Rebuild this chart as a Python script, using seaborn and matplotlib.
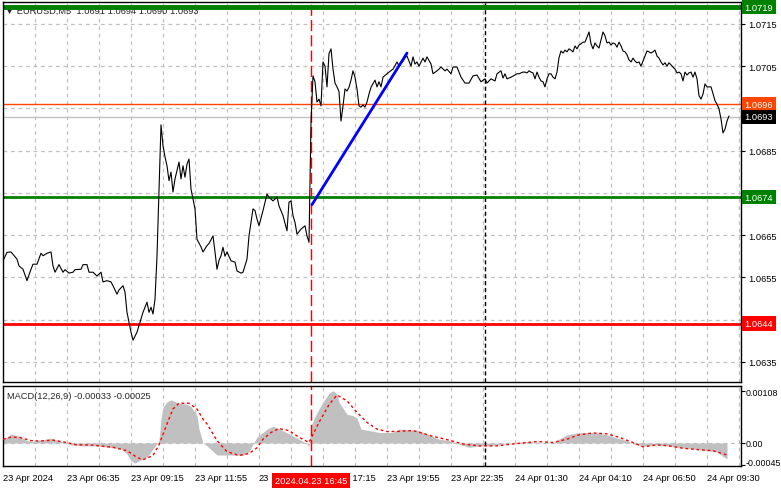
import matplotlib.pyplot as plt
import matplotlib.transforms as mtransforms
import seaborn as sns

# EURUSD M5, one x unit = one 5-minute bar
bars = [0, 2, 4, 7, 8, 10, 12, 14, 15, 17, 19, 20, 22, 24, 25, 26, 28, 30, 31, 33,
        35, 36, 39, 40, 42, 43, 45, 47, 49, 50, 52, 54, 55, 57, 58, 60, 61, 62, 63, 64,
        65, 67, 69, 70, 72, 73, 74, 75, 76, 77, 78, 79, 80, 81, 82, 83, 84, 85, 86, 88,
        89, 90, 91, 92, 93, 94, 95, 96, 97, 99, 100, 102, 103, 105, 106, 107, 108, 109, 110, 111,
        112, 114, 116, 117, 119, 120, 122, 123, 125, 126, 127, 128, 130, 132, 133, 135, 137, 138, 140, 142,
        143, 144, 145, 146, 147, 149, 151, 152, 153, 154, 155, 156, 157, 158, 159, 160, 161, 162, 163, 164,
        165, 166, 167, 168, 169, 170, 171, 172, 173, 174, 175, 176, 177, 178, 179, 180, 181, 182, 183, 184,
        186, 187, 188, 189, 190, 192, 193, 195, 197, 198, 200, 201, 202, 203, 204, 205, 206, 207, 208, 210,
        211, 212, 214, 215, 217, 218, 219, 221, 222, 224, 225, 227, 229, 231, 233, 235, 237, 239, 241, 242,
        244, 246, 247, 249, 250, 251, 252, 254, 256, 257, 258, 260, 261, 262, 263, 264, 265, 266, 267, 268,
        269, 270, 271, 272, 273, 274, 275, 276, 277, 278, 279, 280, 281, 282, 283, 284, 285, 286, 287, 288,
        289, 290, 291, 292, 293, 294, 295, 296, 297, 298, 299, 300, 301, 302, 303, 304, 305, 306, 307, 308,
        309, 310, 311, 312, 313, 314, 315, 316, 317, 318, 319, 320, 321, 322, 323, 324, 325, 326, 327, 328,
        329, 330, 331, 332, 333, 334, 335, 336, 337, 338, 339, 340, 341, 342, 343, 344, 345, 346, 347, 348,
        349, 350, 351, 352, 353, 354, 355, 356, 357, 358, 359, 360, 361, 362, 363]
close = [1.06589, 1.06609, 1.06610, 1.06593, 1.06577, 1.06569, 1.06542, 1.06569, 1.06581, 1.06581,
         1.06607, 1.06601, 1.06607, 1.06610, 1.06577, 1.06562, 1.06580, 1.06562, 1.06568, 1.06560,
         1.06562, 1.06568, 1.06569, 1.06580, 1.06580, 1.06562, 1.06562, 1.06553, 1.06562, 1.06539,
         1.06542, 1.06539, 1.06530, 1.06510, 1.06520, 1.06530, 1.06515, 1.06467, 1.06444, 1.06420,
         1.06401, 1.06420, 1.06451, 1.06467, 1.06491, 1.06467, 1.06479, 1.06463, 1.06498, 1.06600,
         1.06752, 1.06911, 1.06862, 1.06835, 1.06814, 1.06779, 1.06799, 1.06752, 1.06783, 1.06823,
         1.06783, 1.06814, 1.06787, 1.06818, 1.06830, 1.06759, 1.06735, 1.06712, 1.06640, 1.06622,
         1.06610, 1.06625, 1.06630, 1.06648, 1.06610, 1.06569, 1.06590, 1.06601, 1.06621, 1.06600,
         1.06610, 1.06589, 1.06586, 1.06565, 1.06560, 1.06562, 1.06593, 1.06648, 1.06712, 1.06708,
         1.06688, 1.06672, 1.06708, 1.06747, 1.06740, 1.06731, 1.06740, 1.06719, 1.06696, 1.06660,
         1.06728, 1.06731, 1.06696, 1.06680, 1.06652, 1.06664, 1.06672, 1.06648, 1.06633, 1.06918,
         1.07027, 1.07013, 1.06965, 1.06972, 1.06956, 1.07060, 1.07050, 1.07001, 1.07080, 1.07091,
         1.07043, 1.07010, 1.07001, 1.06990, 1.06920, 1.06956, 1.06996, 1.06991, 1.07000, 1.07017,
         1.07039, 1.07024, 1.06996, 1.06956, 1.06953, 1.06958, 1.06953, 1.06965, 1.06984, 1.07000,
         1.07017, 1.07001, 1.07013, 1.07001, 1.07024, 1.07032, 1.07036, 1.07043, 1.07060, 1.07050,
         1.07062, 1.07070, 1.07074, 1.07062, 1.07050, 1.07072, 1.07055, 1.07060, 1.07050, 1.07069,
         1.07060, 1.07072, 1.07055, 1.07032, 1.07039, 1.07043, 1.07048, 1.07039, 1.07043, 1.07032,
         1.07048, 1.07048, 1.07024, 1.07010, 1.07010, 1.07027, 1.07029, 1.07013, 1.07020, 1.07010,
         1.07020, 1.07015, 1.07032, 1.07039, 1.07022, 1.07032, 1.07020, 1.07024, 1.07029, 1.07032,
         1.07032, 1.07036, 1.07036, 1.07034, 1.07039, 1.07036, 1.07034, 1.07020, 1.07036, 1.07024,
         1.07015, 1.07013, 1.07001, 1.07020, 1.07032, 1.07032, 1.07024, 1.07020, 1.07036, 1.07070,
         1.07086, 1.07081, 1.07088, 1.07084, 1.07091, 1.07088, 1.07084, 1.07098, 1.07091, 1.07100,
         1.07103, 1.07107, 1.07107, 1.07119, 1.07131, 1.07103, 1.07091, 1.07105, 1.07098, 1.07093,
         1.07112, 1.07131, 1.07122, 1.07105, 1.07107, 1.07100, 1.07105, 1.07103, 1.07095, 1.07107,
         1.07098, 1.07086, 1.07084, 1.07077, 1.07065, 1.07060, 1.07069, 1.07062, 1.07058, 1.07060,
         1.07050, 1.07062, 1.07074, 1.07086, 1.07084, 1.07081, 1.07084, 1.07088, 1.07074, 1.07069,
         1.07060, 1.07053, 1.07058, 1.07050, 1.07058, 1.07053, 1.07048, 1.07043, 1.07034, 1.07036,
         1.07032, 1.07015, 1.07036, 1.07029, 1.07034, 1.07036, 1.07024, 1.07036, 1.07020, 1.06980,
         1.06972, 1.06984, 1.07008, 1.07001, 1.07001, 1.07001, 1.06985, 1.06968, 1.06960, 1.06949,
         1.06925, 1.06892, 1.06901, 1.06920, 1.06932]

# MACD(12,26,9): histogram and signal
hist_bars = [0, 2, 4, 8, 12, 15, 20, 24, 28, 31, 34, 40, 47, 53, 59, 62, 64, 66, 68, 72,
             75, 77, 78, 79, 80, 82, 84, 86, 88, 92, 94, 97, 98, 100, 102, 107, 113, 120, 123, 125,
             127, 132, 135, 138, 143, 148, 152, 153, 154, 157, 160, 163, 165, 167, 168, 172, 175, 177, 179, 183,
             188, 195, 198, 203, 208, 213, 218, 223, 228, 233, 238, 243, 248, 255, 262, 268, 275, 278, 282, 287,
             292, 297, 302, 307, 312, 315, 320, 327, 333, 338, 345, 352, 357, 360, 362]
hist_vals = [0.00010, 0.00012, 0.00019, 0.00014, 0.00005, 0.00003, 0.00007, 0.00010, 0.00005, 0.0,
             -0.00004, -0.00006, -0.00006, -0.00009, -0.00012, -0.00023, -0.00037, -0.00042, -0.00037, -0.00030,
             -0.00012, -0.00002, 0.00005, 0.00050, 0.00074, 0.00086, 0.00090, 0.00086, 0.00083, 0.00081,
             0.00076, 0.00057, 0.00029, 0.0, -0.00006, -0.00025, -0.00025, -0.00026, -0.00018, -0.00002,
             0.00012, 0.00029, 0.00035, 0.00030, 0.00019, 0.00008, -0.00002, -0.00008, 0.00036, 0.00064,
             0.00085, 0.00104, 0.00109, 0.00102, 0.00085, 0.00060, 0.00057, 0.00052, 0.00029, 0.00026,
             0.00022, 0.00022, 0.00029, 0.00028, 0.00026, 0.00017, 0.00008, 0.00005, -0.00002, -0.00009,
             -0.00006, -0.00006, -0.00003, 0.0, 0.00003, 0.00001, 0.0, 0.00008, 0.00017, 0.00021,
             0.00022, 0.00021, 0.00017, 0.00010, 0.00005, -0.00002, -0.00006, -0.00004, -0.00006, -0.00009,
             -0.00012, -0.00016, -0.00019, -0.00028, -0.00033]
sig_bars = [0, 4, 8, 14, 18, 25, 32, 37, 44, 48, 55, 62, 67, 70, 75, 78, 82, 85, 88, 93,
            97, 100, 102, 107, 112, 118, 123, 127, 130, 134, 138, 143, 148, 153, 158, 163, 167, 172, 177, 182,
            187, 192, 197, 205, 215, 222, 230, 238, 247, 255, 267, 275, 282, 288, 295, 302, 308, 315, 320, 327,
            333, 340, 348, 355, 362]
sig_vals = [0.00008, 0.00012, 0.00012, 0.00005, 0.00004, 0.00006, 0.00001, -0.00004, -0.00004, -0.00006,
            -0.00009, -0.00016, -0.00030, -0.00035, -0.00026, -0.00004, 0.00040, 0.00071, 0.00083, 0.00083,
            0.00071, 0.00050, 0.00040, 0.00005, -0.00018, -0.00026, -0.00022, -0.00010, 0.00008, 0.00022,
            0.00030, 0.00026, 0.00012, 0.00001, 0.00043, 0.00080, 0.00100, 0.00088, 0.00064, 0.00043,
            0.00029, 0.00024, 0.00024, 0.00026, 0.00014, 0.00007, -0.00002, -0.00006, -0.00006, -0.00002,
            0.00003, 0.00001, 0.00008, 0.00017, 0.00021, 0.00019, 0.00012, 0.00001, -0.00008, -0.00004,
            -0.00006, -0.00011, -0.00014, -0.00016, -0.00025]

# drawn objects
trend_bars = [154.5, 202]
trend_prices = [1.06722, 1.07081]
level_prices = [1.0719, 1.0674, 1.0644]
ask_price = 1.0696
bid_price = 1.0693
event_bar = 154
separator_bar = 241

price_ticks = [1.0635, 1.0645, 1.0655, 1.0665, 1.0675, 1.0685, 1.0695, 1.0705, 1.0715]
# labels hidden behind the coloured price boxes are left blank
price_tick_labels = ['1.0635', '', '1.0655', '1.0665', '', '1.0685', '', '1.0705', '1.0715']
macd_ticks = [-0.00045, 0.0, 0.00108]
macd_tick_labels = ['-0.00045', '0.00', '0.00108']
time_ticks = [0, 32, 64, 96, 128, 160, 192, 224, 256, 288, 320, 352]
time_labels = ['23 Apr 2024', '23 Apr 06:35', '23 Apr 09:15', '23 Apr 11:55', '23',
               '23 Apr 17:15', '23 Apr 19:55', '23 Apr 22:35', '24 Apr 01:30', '24 Apr 04:10',
               '24 Apr 06:50', '24 Apr 09:30']

sns.set_style('white')
plt.rcParams['font.family'] = ['Liberation Sans', 'DejaVu Sans']
plt.rcParams['axes.unicode_minus'] = False
FS = 6.7
GRID = '#c0c0c0'

W, H = 781, 489
fig = plt.figure(figsize=(W / 100, H / 100), dpi=100)
ax = fig.add_axes([3 / W, 1 - 383 / H, 738 / W, 380 / H])
ax2 = fig.add_axes([3 / W, 1 - 467 / H, 738 / W, 80.5 / H])

for a in (ax, ax2):
    a.set_xlim(0, 369)
    for s in a.spines.values():
        s.set_color('black')
        s.set_linewidth(1)
    a.yaxis.tick_right()
    a.tick_params(axis='y', direction='out', length=3, width=0.8, pad=2, labelsize=FS, colors='black')
    for t in range(16, 369, 16):
        a.axvline(t, color=GRID, lw=0.9, ls=(0, (3, 3)), zorder=0)
    a.axvline(event_bar, color='red', lw=1, ls=(0, (8, 3)), zorder=2)
    a.axvline(separator_bar, color='black', lw=1, ls=(0, (3, 2)), zorder=2)

# price panel
ax.set_ylim(1.06302, 1.07202)
ax.set_yticks(price_ticks)
ax.set_yticklabels(price_tick_labels)
ax.tick_params(axis='x', bottom=False, labelbottom=False)
for v in price_ticks:
    ax.axhline(v, color=GRID, lw=0.9, ls=(0, (3, 3)), zorder=0)

ax.axhline(level_prices[0], color='#008000', lw=3.5, zorder=2)
ax.axhline(level_prices[1], color='#008000', lw=2, zorder=2)
ax.axhline(level_prices[2], color='#ff0000', lw=2, zorder=2)
ax.axhline(ask_price, color='#ff4500', lw=1, zorder=1)
ax.axhline(bid_price, color=GRID, lw=1, zorder=1)

sns.lineplot(x=bars, y=close, ax=ax, color='black', lw=0.8, estimator=None, zorder=3)
sns.lineplot(x=trend_bars, y=trend_prices, ax=ax, color='#0000ff', lw=2, estimator=None, zorder=4)
ax.set_xlabel('')
ax.set_ylabel('')

ax.text(0.0027, 0.979, '\u25bc EURUSD,M5  1.0691 1.0694 1.0690 1.0693', transform=ax.transAxes,
        fontsize=FS, ha='left', va='center', zorder=1)

# price labels on the right scale
tr = mtransforms.blended_transform_factory(ax.transAxes, ax.transData)
boxes = [(level_prices[0], '#008000'), (ask_price, '#ff4500'), (bid_price, 'black'),
         (level_prices[1], '#008000'), (level_prices[2], '#ff0000')]
for val, col in boxes:
    ax.text(1.0045, val, f'{val:.4f}', transform=tr, fontsize=FS, color='white', ha='left', va='center',
            bbox=dict(boxstyle='square,pad=0.3', fc=col, ec='none'), zorder=10, clip_on=False)

# MACD panel
ax2.set_ylim(-0.00048, 0.0012)
ax2.set_yticks(macd_ticks)
ax2.set_yticklabels(macd_tick_labels)
ax2.tick_params(axis='y', pad=0.5, labelsize=6.4)
# lowest label sits a little higher, as on the terminal
low_lab = ax2.get_yticklabels()[0]
low_lab.set_transform(low_lab.get_transform() + mtransforms.ScaledTranslation(0, 3 / 100, fig.dpi_scale_trans))
ax2.axhline(0, color=GRID, lw=0.9, ls=(0, (3, 3)), zorder=0)
ax2.fill_between(hist_bars, hist_vals, 0, color='#c0c0c0', lw=0, zorder=1)
sns.lineplot(x=sig_bars, y=sig_vals, ax=ax2, color='red', lw=1, estimator=None, zorder=3)
ax2.lines[-1].set_linestyle((0, (2, 2)))
ax2.set_xlabel('')
ax2.set_ylabel('')
ax2.text(0.0054, 0.88, 'MACD(12,26,9) -0.00033 -0.00025', transform=ax2.transAxes,
         fontsize=FS, ha='left', va='center', zorder=5)

ax2.set_xticks(time_ticks)
ax2.set_xticklabels(time_labels, ha='left')
ax2.tick_params(axis='x', direction='out', length=3, width=0.8, pad=2, labelsize=FS, colors='black')

trx = mtransforms.blended_transform_factory(ax2.transData, ax2.transAxes)
ax2.text(event_bar, -0.18, '2024.04.23 16:45', transform=trx, fontsize=FS, color='white',
         ha='center', va='center', bbox=dict(boxstyle='square,pad=0.3', fc='#ff0000', ec='none'),
         zorder=10, clip_on=False)

fig.savefig('out.png', dpi=100)
